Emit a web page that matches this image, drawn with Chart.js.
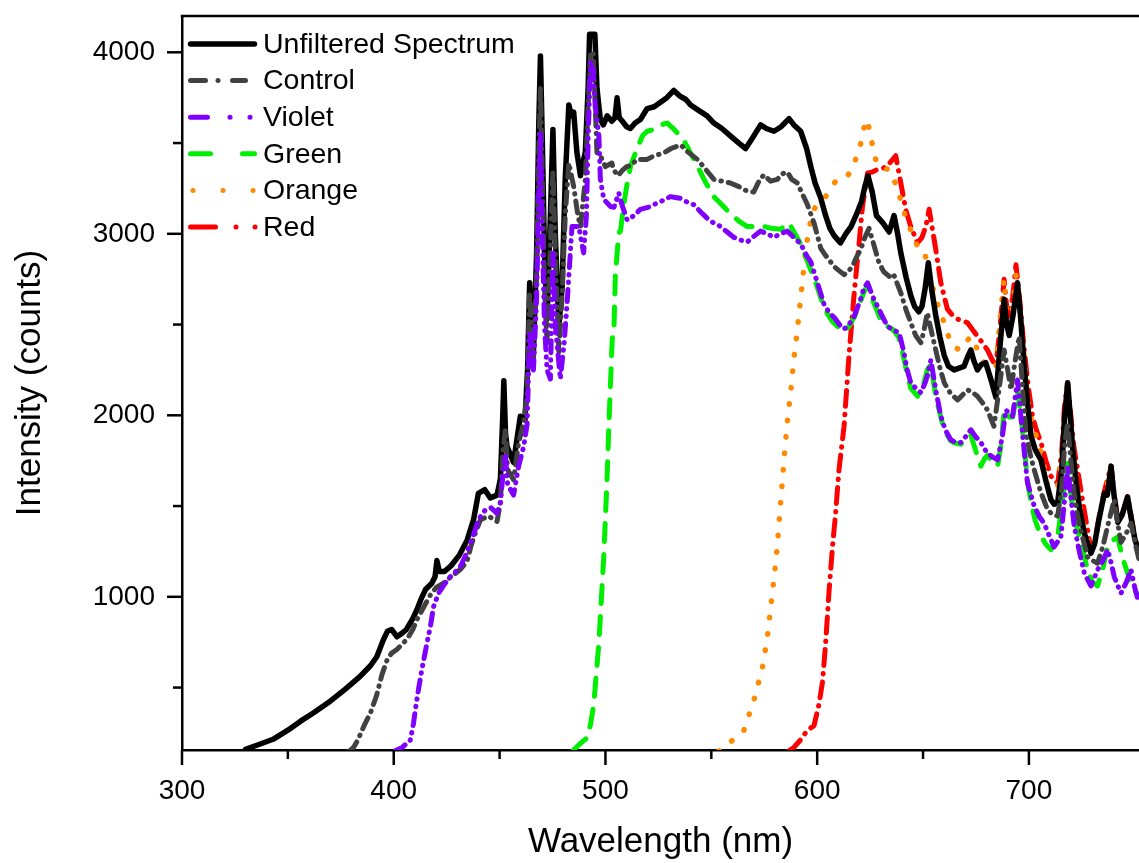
<!DOCTYPE html>
<html>
<head>
<meta charset="utf-8">
<script src="https://cdn.jsdelivr.net/npm/chart.js@4/dist/chart.umd.min.js"></script>
<style>
  html, body { margin: 0; padding: 0; background: #fff; }
  canvas { display: block; }
</style>
</head>
<body>
<canvas id="spectrum" width="1139" height="863"></canvas>
<script>
// wavelength (nm) / intensity (counts)
const unfilteredNm = [330,336,343,350,356,362,370,377,384,389,392,395,397,399,401.5,404,406,409,411,413,415,418,419.5,420.4,421.5,424,427,431,434.6,437.7,440,443,445.6,448.8,450.4,451.5,452,452.8,453.5,456.6,459.8,462,463.2,464.2,465,466,467.5,468.5,469.3,470.2,471.2,472.4,474,475.2,476.3,478,479.5,481,482.7,484,485,486.5,488.2,489.5,490.5,491.8,492.5,495,496,497.6,499,500.8,503,504.5,505.5,506.5,508,510,511.8,514,516.5,519.7,523,526,529,532.3,535,538,540.2,544,548,551.2,555,559,563,566.2,569,573.3,576,579.6,583,586.7,589,592.2,595,597,599,601.6,604,606,608,611,613.5,616,619,621,622.5,624,626,628,631,634,636.3,638,639.5,642,644.2,646,648,649.5,651,652.5,654,656,658,660,662,664.7,667,669.4,671,672.6,674,675.7,677.5,679.6,682,684.4,686.5,688.3,689.5,690.7,692.5,694.6,696,697.8,699.5,701,703,705.7,708,710.4,712,713.6,715.5,716.8,718.3,719.5,720.8,722.3,724,726.2,729.3,731,733,735.6,737,738.8,740.2,742,744,746.6,748.5,750,752];
const unfilteredCounts = [160,185,215,265,315,360,425,490,560,620,670,760,810,820,780,800,820,880,930,990,1040,1075,1110,1200,1140,1140,1170,1230,1310,1425,1570,1590,1545,1560,1650,2000,2190,1900,1830,1740,1995,1975,2250,2730,2500,2345,2900,3600,3980,3500,2900,2530,3100,3575,3000,2490,2700,3300,3710,3650,3670,3450,3320,3400,3450,3800,4100,4100,3800,3630,3600,3650,3620,3640,3750,3640,3620,3590,3580,3610,3630,3690,3700,3725,3750,3790,3760,3740,3710,3680,3650,3610,3580,3540,3500,3470,3520,3600,3580,3565,3590,3635,3600,3565,3470,3370,3280,3200,3100,3030,2990,2950,3000,3040,3120,3180,3260,3320,3230,3100,3060,3010,3100,3000,2895,2760,2660,2600,2570,2600,2700,2840,2700,2550,2430,2330,2270,2250,2260,2270,2320,2360,2300,2250,2280,2290,2200,2100,2400,2640,2500,2440,2550,2730,2550,2270,2050,1885,1810,1755,1640,1535,1510,1520,1700,1980,2180,2000,1800,1630,1480,1350,1240,1290,1420,1570,1560,1720,1560,1410,1450,1550,1420,1320,1240];

const controlNm = [379,381,383,386,389,392,394.4,396.8,399,401.5,404,406.2,409,411,414,417.3,420,423.5,427,431.4,434.6,436.5,438.5,441,444.8,448.8,450.4,451.5,452.7,453.8,456.6,459,461.4,463,464.2,465.2,466,467.5,468.5,469.3,470.2,471.2,472.4,474,475.2,476.3,478,479.5,481,482.7,485,487,488.2,490.5,491.8,493,494.2,495.2,496,498,500,503,504,506,508,510,511.8,515,519.7,523,527.5,531,535.5,539,543.4,547,551.2,555,559,563,566,570,572.5,574.8,578,581.2,583.5,585.9,588,590.6,593,595.4,598.5,601.7,604,606,608,610,612.7,614.5,616.6,618.5,620.6,622.5,624.5,626.5,629.2,631.5,634,636,638,639.5,642,644.2,646.5,649,650.5,652,654,656,658,660,663,666.3,668.5,671,673.5,675.7,678,680.4,683.5,686,688.3,690,691.5,693.5,695.4,697,698.6,700.5,702.5,705.5,708.8,711,713.6,715.5,717,718.3,719.8,721.3,723,725.5,727.7,730,732.4,735,737.2,740.3,742,743.5,746,748.2,750.5,752];
const controlCounts = [150,170,210,290,360,460,570,650,690,710,740,765,820,875,940,1010,1050,1075,1110,1150,1195,1280,1350,1425,1445,1415,1520,1800,1920,1700,1645,1850,1960,2120,2680,2450,2300,2800,3450,3800,3300,2700,2400,2950,3350,2900,2350,2650,3100,3390,3260,3100,3040,3300,3700,4000,4000,3700,3445,3420,3370,3390,3350,3320,3350,3370,3375,3410,3410,3430,3445,3470,3490,3450,3410,3360,3300,3290,3280,3260,3240,3230,3290,3325,3290,3300,3330,3340,3300,3280,3220,3160,3060,2920,2880,2850,2820,2800,2775,2790,2820,2870,2915,2980,3030,2950,2840,2790,2765,2780,2720,2675,2580,2510,2440,2400,2470,2565,2460,2360,2260,2180,2120,2085,2110,2140,2125,2105,2070,2030,1940,2150,2360,2250,2140,2300,2435,2150,1905,1790,1700,1580,1480,1455,1445,1600,1850,1960,1750,1580,1445,1320,1220,1200,1185,1280,1390,1535,1400,1300,1350,1405,1280,1205];

const violetNm = [400.5,404,407.8,409.3,410.5,411.7,413.3,415.7,417.3,418.8,421.2,424,426.7,431.4,434,436.2,438.5,440,443.3,446,448.8,450.4,451.8,452.7,453.8,456.6,459,461.4,463,464.2,465.2,466,467.5,468.5,469.3,470.2,471.2,472.4,474,475.2,476.3,478.7,480.5,481.9,484.2,487.4,489.7,491,492,493,494.2,495.2,496.9,497.6,499.2,502.4,504,506.3,507.9,510.3,513.4,516.5,521.3,524.4,527.5,530.7,533,535.5,538.5,541.8,545,548.1,551,554.4,557.5,560.7,564,567,570,573.3,576.5,579.6,582.5,585.9,589,592.2,595,597,600.1,603.3,606,608,610.5,612.7,615,617.5,620.5,622,623.8,626,628.5,631,633.2,636,638.7,641,642.5,644.2,646.5,649,651,652,653.7,656,658.4,660.5,663.1,665.5,667.8,670,672.6,675,677.3,680.4,683,685.2,687.5,689.1,690.7,692.3,694.6,696.2,697.8,699.3,702.5,705,707.2,709.5,711.9,715.1,717,718.3,719.8,721.4,724,726.2,729.3,732.5,735,737.2,739,740.3,743.5,746,748.2,750,752];
const violetCounts = [150,170,210,300,400,490,600,745,835,945,1020,1070,1110,1165,1230,1295,1370,1425,1480,1490,1460,1520,1700,1780,1620,1560,1720,1830,1950,2450,2300,2250,2650,3200,3550,3000,2500,2250,2200,2900,2500,2200,2400,2620,3040,3040,2895,3100,3600,3950,3900,3700,3540,3300,3190,3150,3146,3225,3155,3075,3100,3135,3150,3170,3185,3205,3200,3195,3175,3160,3120,3085,3060,3040,3010,2980,2965,2955,2985,3015,3000,2980,3000,3015,2980,2945,2880,2845,2730,2610,2560,2540,2500,2475,2500,2545,2640,2700,2730,2660,2600,2540,2490,2470,2455,2345,2250,2180,2150,2125,2180,2215,2305,2140,1995,1920,1865,1850,1850,1880,1920,1880,1850,1790,1770,1755,1885,2030,2010,1995,2195,1995,1800,1630,1500,1440,1405,1340,1275,1330,1550,1720,1550,1390,1240,1130,1060,1150,1200,1260,1180,1110,1020,1080,1150,1050,965];

const greenNm = [484.5,487,489,491.5,493,494.5,496.9,499.2,500.8,501.6,503.2,504,504.7,506.3,507.1,508.5,510.3,512,515,517.5,519.7,522.8,526,529.2,532,534.5,537,540,543.4,547,551.2,555,559,563,567,571,574.8,578.5,582.7,586.7,589.5,592.2,595,597,600.1,602.5,604.8,607,609.6,612.7,615,617.5,620.5,622.5,623.8,626,628.5,630.5,633.2,636,638.5,640,642.5,644.2,647.4,650,652,653.7,656,658.4,660,663,664.7,667.8,670,672.6,675,677.3,679,680.4,683,685.2,687,688.3,690.7,692.3,694.6,696.2,697.8,699.3,701,703,705.7,708,710.4,712,713.6,716,718.3,720,721.5,723,725.5,727.7,730,732.4,735,737.2,739.5,741.9,743.5,745.1,747.5,749.8,752];
const greenCounts = [150,180,200,225,300,410,745,1220,1660,1940,2420,2470,2775,3005,3015,3150,3280,3380,3470,3540,3565,3575,3600,3610,3580,3550,3515,3450,3375,3290,3205,3160,3110,3070,3040,3040,3040,3030,3025,3060,3000,2945,2860,2800,2705,2620,2560,2520,2490,2460,2490,2540,2630,2690,2710,2640,2570,2510,2490,2470,2430,2362,2230,2150,2105,2160,2250,2280,2105,1990,1920,1860,1848,1840,1860,1890,1800,1720,1760,1780,1740,1720,1850,2030,1990,1990,2140,2000,1830,1640,1520,1420,1335,1290,1260,1290,1330,1550,1735,1550,1420,1370,1250,1150,1080,1060,1160,1275,1310,1330,1250,1185,1100,1040,1000];

const orangeNm = [553.5,556,560,565.4,570.1,574,576.4,578,579.6,581.2,582.3,583.5,584.6,585.9,587.5,589,590.6,592.2,593.8,595.5,597.7,600.5,604,606.5,608.7,611,614.2,617,619,620.6,622,623.4,625,626.7,628.4,631,634,636,637.8,639.5,642.6,645,647.4,650.5,653,656,660,663,665.5,667.8,670,672.6,675,677.3,680,682,684.4,686.5,688.3,689.5,690.7,692.5,694,696,697.8,699.3,701.5,704,706.5,708.8,710.4,712,713.6,715.5,716.8,718.3,719.5,720.8,722.5,724,726.2,729.3,731,733,735.6,738.8,740.2,742,744,746.6,748.5,750,752];
const orangeCounts = [150,165,210,265,430,600,770,935,1100,1280,1460,1630,1795,1965,2130,2310,2465,2645,2820,2980,3120,3170,3205,3250,3290,3300,3315,3370,3440,3500,3580,3630,3560,3450,3380,3360,3355,3300,3260,3180,3060,3000,2930,2910,2780,2640,2510,2400,2370,2360,2400,2435,2380,2325,2260,2200,2260,2550,2750,2560,2500,2600,2780,2550,2320,2090,1960,1865,1760,1610,1600,1590,1610,1780,2000,2140,1980,1780,1640,1500,1370,1250,1300,1430,1560,1700,1560,1420,1440,1530,1420,1330,1250];

const redNm = [586.5,589,592,595.4,598.5,600.9,602.5,604,605.6,607.2,608.7,610.3,612.7,615,617.5,619.8,621.4,623.8,626,628.5,631,633.2,635,637.1,639.5,641.8,644.2,647.4,649.5,651.3,652.9,654.5,656,658.4,661.5,664,666.3,669,671,673.5,675.7,678,680.4,682.5,684.4,686.5,688.3,689.5,690.7,692.3,693.9,695.8,697.8,699.8,701.7,703.5,705.7,708,710.4,713.6,715.5,716.8,718.3,719.8,721.3,723,725.5,727.7,729.3,731,733,735.6,738.8,740.2,742,744,746.6,748.5,750,752];
const redCounts = [150,170,210,265,290,410,530,745,1030,1270,1460,1700,1940,2325,2675,2950,3150,3335,3340,3355,3360,3375,3400,3430,3280,3135,3040,2950,2980,3040,3135,3020,2915,2730,2585,2550,2530,2520,2510,2470,2435,2400,2360,2310,2270,2500,2750,2600,2545,2650,2830,2620,2360,2150,1995,1920,1850,1750,1665,1625,1800,2050,2180,2000,1820,1700,1520,1370,1260,1300,1430,1580,1720,1570,1420,1450,1555,1430,1330,1250];

const seriesLabels = ['Unfiltered Spectrum', 'Control', 'Violet', 'Green', 'Orange', 'Red'];
const xTickValues = [300, 350, 400, 450, 500, 550, 600, 650, 700];
const yTickValues = [500, 1000, 1500, 2000, 2500, 3000, 3500, 4000];

const FONT = '"Liberation Sans", Arial, Helvetica, sans-serif';

function toPoints(xs, ys) {
    return xs.map((x, i) => ({ x: x, y: ys[i] }));
}

// legend samples: segments [from, to] along a 69px sample, from == to is a dot
const legendSamples = {
    'Unfiltered Spectrum': [[2.5, 66.5]],
    'Control': [[2.5, 17.5], [30, 30], [44.5, 57.5]],
    'Violet': [[2.5, 19.5], [42, 42], [62, 62]],
    'Green': [[2.5, 22.5], [54.5, 66.5]],
    'Orange': [[5, 5], [35, 35], [65, 65]],
    'Red': [[2.5, 27.5], [48, 48], [67, 67]]
};

const frameAndLegend = {
    id: 'frameAndLegend',
    afterDraw(chart) {
        const ctx = chart.ctx;
        const area = chart.chartArea;
        const xs = chart.scales.x, ys = chart.scales.y;
        ctx.save();
        ctx.strokeStyle = '#000';
        ctx.lineWidth = 2.5;
        ctx.lineCap = 'butt';
        // top frame
        ctx.beginPath();
        ctx.moveTo(area.left - 1.25, area.top);
        ctx.lineTo(area.right, area.top);
        ctx.stroke();
        // outward tick marks
        xTickValues.forEach(v => {
            const px = xs.getPixelForValue(v);
            const len = v % 100 === 0 ? 15 : 9;
            ctx.beginPath();
            ctx.moveTo(px, area.bottom);
            ctx.lineTo(px, area.bottom + len);
            ctx.stroke();
        });
        yTickValues.forEach(v => {
            const py = ys.getPixelForValue(v);
            const len = v % 1000 === 0 ? 15 : 9;
            ctx.beginPath();
            ctx.moveTo(area.left, py);
            ctx.lineTo(area.left - len, py);
            ctx.stroke();
        });

        // legend
        ctx.font = '28.5px ' + FONT;
        ctx.textBaseline = 'middle';
        ctx.textAlign = 'left';
        chart.data.datasets.forEach((ds, i) => {
            const y = 44 + i * 36.6;
            const x0 = 188;
            ctx.strokeStyle = ds.borderColor;
            ctx.lineWidth = i === 0 ? 5.5 : 5;
            ctx.lineCap = 'round';
            ctx.setLineDash([]);
            legendSamples[ds.label].forEach(seg => {
                ctx.beginPath();
                ctx.moveTo(x0 + seg[0], y);
                ctx.lineTo(x0 + seg[1] + (seg[0] === seg[1] ? 0.01 : 0), y);
                ctx.stroke();
            });
            ctx.fillStyle = '#000';
            ctx.fillText(ds.label, 263, y + 1);
        });
        ctx.restore();
    }
};

const ctx = document.getElementById('spectrum');
const common = { pointRadius: 0, tension: 0, fill: false, borderCapStyle: 'round', borderJoinStyle: 'round' };

new Chart(ctx, {
    type: 'line',
    data: {
        datasets: [
            Object.assign({ label: seriesLabels[0], data: toPoints(unfilteredNm, unfilteredCounts), borderColor: '#000000', borderWidth: 5.5, order: 2 }, common),
            Object.assign({ label: seriesLabels[1], data: toPoints(controlNm, controlCounts), borderColor: '#414141', borderWidth: 5, borderDash: [12, 7, 0.5, 7], order: 1 }, common),
            Object.assign({ label: seriesLabels[2], data: toPoints(violetNm, violetCounts), borderColor: '#7f00ff', borderWidth: 5, borderDash: [12, 7, 0.5, 7, 0.5, 7], order: 0 }, common),
            Object.assign({ label: seriesLabels[3], data: toPoints(greenNm, greenCounts), borderColor: '#00ee00', borderWidth: 5, borderDash: [18, 13], order: 3 }, common),
            Object.assign({ label: seriesLabels[4], data: toPoints(orangeNm, orangeCounts), borderColor: '#ff8a00', borderWidth: 5.5, borderDash: [0.5, 16], order: 4 }, common),
            Object.assign({ label: seriesLabels[5], data: toPoints(redNm, redCounts), borderColor: '#ff0000', borderWidth: 5, borderDash: [16, 8, 0.5, 8], order: 5 }, common)
        ]
    },
    options: {
        responsive: false,
        animation: false,
        devicePixelRatio: 1,
        layout: { padding: { top: 16, right: 0, left: 0, bottom: 0 } },
        plugins: {
            legend: { display: false },
            tooltip: { enabled: false }
        },
        scales: {
            x: {
                type: 'linear',
                min: 300,
                max: 752,
                afterBuildTicks: scale => { scale.ticks = xTickValues.map(v => ({ value: v })); },
                afterFit: scale => { scale.height = 113; scale.paddingLeft = 0; scale.paddingRight = 0; },
                grid: { display: true, drawOnChartArea: false, drawTicks: false },
                border: { display: true, color: '#000', width: 2.5 },
                ticks: {
                    autoSkip: false,
                    maxRotation: 0,
                    padding: 24,
                    color: '#000',
                    font: { family: FONT, size: 28 },
                    callback: v => (v % 100 === 0 ? String(v) : '')
                },
                title: {
                    display: true,
                    text: 'Wavelength (nm)',
                    color: '#000',
                    font: { family: FONT, size: 35 },
                    padding: { top: 0, bottom: 0 }
                }
            },
            y: {
                type: 'linear',
                min: 156,
                max: 4200,
                afterBuildTicks: scale => { scale.ticks = yTickValues.map(v => ({ value: v })); },
                afterFit: scale => { scale.width = 182; scale.paddingTop = 0; scale.paddingBottom = 0; },
                grid: { display: true, drawOnChartArea: false, drawTicks: false },
                border: { display: true, color: '#000', width: 2.5 },
                ticks: {
                    padding: 27,
                    color: '#000',
                    font: { family: FONT, size: 28 },
                    callback: v => (v % 1000 === 0 ? String(v) : '')
                },
                title: {
                    display: true,
                    text: 'Intensity (counts)',
                    color: '#000',
                    font: { family: FONT, size: 35 },
                    padding: { top: 9, bottom: 0 }
                }
            }
        }
    },
    plugins: [frameAndLegend]
});
</script>
</body>
</html>
